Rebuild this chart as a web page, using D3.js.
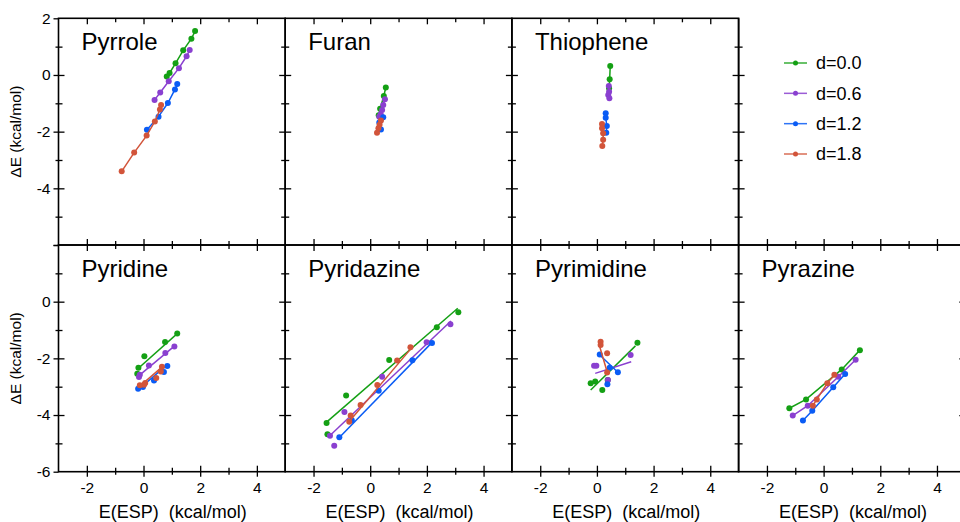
<!DOCTYPE html>
<html>
<head>
<meta charset="utf-8">
<script src="https://cdn.jsdelivr.net/npm/d3@7"></script>
<style>
  body { margin: 0; background: #fff; }
  svg { font-family: "Liberation Sans", Arial, sans-serif; }
  .tick text { font-size: 15.5px; fill: #000; }
  .tick line { stroke: #000; stroke-width: 1.3; }
  .frame { fill: none; stroke: #000; stroke-width: 1.6; }
</style>
</head>
<body>
<div id="chart"></div>
<script>
// ---- data ----
const molecules = ["Pyrrole", "Furan", "Thiophene", "Pyridine", "Pyridazine", "Pyrimidine", "Pyrazine"];
const seriesNames = ["d=0.0", "d=0.6", "d=1.2", "d=1.8"];
const seriesColors = ["#14a014", "#8a40d0", "#0a5cf5", "#d2543a"];

const xTicks = [-2, 0, 2, 4];
const yTicksTop = [2, 0, -2, -4];
const yTicksBottom = [0, -2, -4, -6];

// points per series: [E(ESP), dE]
const pyrrole = [
  [[1.82,1.55],[1.69,1.28],[1.40,0.87],[1.13,0.41],[0.92,0.07],[0.82,-0.05]],
  [[1.63,0.88],[1.52,0.66],[1.25,0.24],[0.89,-0.22],[0.59,-0.62],[0.39,-0.88]],
  [[1.19,-0.32],[1.11,-0.51],[0.86,-0.99],[0.53,-1.47],[0.12,-1.93]],
  [[0.62,-1.06],[0.58,-1.22],[0.40,-1.64],[0.11,-2.14],[-0.33,-2.74],[-0.77,-3.40]]
];
const furan = [
  [[0.55,-0.44],[0.48,-0.74],[0.35,-1.19],[0.30,-1.42]],
  [[0.52,-0.86],[0.46,-1.06],[0.42,-1.24],[0.37,-1.39],[0.32,-1.47]],
  [[0.46,-1.49],[0.32,-1.68],[0.38,-1.92]],
  [[0.38,-1.61],[0.33,-1.76],[0.29,-1.88],[0.24,-2.04]]
];
const thiophene = [
  [[0.47,0.32],[0.45,-0.15],[0.43,-0.47]],
  [[0.42,-0.39],[0.43,-0.59],[0.40,-0.71],[0.44,-0.82]],
  [[0.31,-1.35],[0.31,-1.51],[0.35,-1.80],[0.33,-2.04]],
  [[0.18,-1.73],[0.18,-1.88],[0.22,-2.06],[0.22,-2.29],[0.19,-2.51]]
];
const pyridine = [
  [[1.19,-1.12],[0.76,-1.42],[0.03,-1.93],[-0.18,-2.33],[-0.22,-2.54]],
  [[1.09,-1.58],[0.77,-1.81],[0.19,-2.25],[-0.13,-2.58],[-0.16,-2.66]],
  [[0.84,-2.27],[0.72,-2.48],[0.37,-2.78],[-0.02,-3.01],[-0.19,-3.07]],
  [[0.65,-2.30],[0.61,-2.46],[0.45,-2.69],[0.06,-2.87],[0.02,-2.93],[-0.13,-2.95]]
];
const pyridazine = [
  [[3.11,-0.37],[2.35,-0.90],[0.67,-2.06],[-0.85,-3.31],[-1.54,-4.28],[-1.51,-4.68]],
  [[2.83,-0.80],[1.99,-1.43],[0.42,-2.65],[-0.91,-3.89],[-1.42,-4.73],[-1.27,-5.08]],
  [[2.18,-1.46],[1.49,-2.07],[0.30,-3.14],[-0.65,-4.18],[-1.09,-4.78]],
  [[1.42,-1.61],[0.95,-2.08],[0.25,-2.94],[-0.34,-3.65],[-0.69,-4.02],[-0.74,-4.24]]
];
const pyrimidine = [
  [[1.43,-1.45],[0.38,-2.76],[-0.06,-2.82],[-0.22,-2.88],[0.19,-3.12]],
  [[1.19,-1.88],[-0.02,-2.26],[-0.10,-2.26],[0.39,-2.76]],
  [[0.10,-1.86],[0.45,-2.33],[0.74,-2.49],[0.37,-2.91]],
  [[0.13,-1.41],[0.13,-1.53],[0.36,-1.82],[0.36,-2.50]]
];
const pyrazine = [
  [[1.28,-1.71],[0.64,-2.39],[-0.62,-3.45],[-1.21,-3.76]],
  [[1.13,-2.05],[0.52,-2.65],[-0.56,-3.67],[-1.09,-4.02]],
  [[0.76,-2.55],[0.34,-3.02],[-0.40,-3.85],[-0.73,-4.19]],
  [[0.38,-2.58],[0.13,-2.88],[-0.24,-3.45],[-0.38,-3.67]]
];

// fitted lines (end points) for the panels that show fits instead of joined points
const pyridineFits = [[-0.19,-2.36,1.22,-1.10],[-0.17,-2.62,1.10,-1.56],[-0.19,-3.11,0.84,-2.22],[-0.13,-2.98,0.66,-2.30]];
const pyridazineFits = [[-1.56,-4.27,3.09,-0.23],[-1.42,-4.72,2.85,-0.68],[-1.09,-4.79,2.21,-1.41],[-0.77,-4.26,1.52,-1.56]];
const pyrimidineFits = [[-0.22,-3.12,1.36,-1.56],[-0.06,-2.53,1.21,-2.12],[0.10,-1.88,0.72,-2.47],[0.10,-1.59,0.36,-2.47]];

const panels = [
  {name: molecules[0], col: 0, row: 0, pts: pyrrole, fits: null},
  {name: molecules[1], col: 1, row: 0, pts: furan, fits: null},
  {name: molecules[2], col: 2, row: 0, pts: thiophene, fits: null},
  {name: molecules[3], col: 0, row: 1, pts: pyridine, fits: pyridineFits},
  {name: molecules[4], col: 1, row: 1, pts: pyridazine, fits: pyridazineFits},
  {name: molecules[5], col: 2, row: 1, pts: pyrimidine, fits: pyrimidineFits},
  {name: molecules[6], col: 3, row: 1, pts: pyrazine, fits: null}
];

// ---- layout ----
const W = 960, H = 522;
const left0 = 58.5, top0 = 18.3, size = 226.7;

const svg = d3.select("#chart").append("svg")
  .attr("width", W).attr("height", H);

function scalesFor(col, row) {
  const x0 = left0 + col * size, y0 = top0 + row * size;
  return {
    x: d3.scaleLinear().domain([-3, 5]).range([x0, x0 + size]),
    y: d3.scaleLinear().domain([-6, 2]).range([y0 + size, y0]),
    x0, y0
  };
}

const majorX = [-2, 0, 2, 4], minorX = [-1, 1, 3];
const majorY = [-4, -2, 0], minorY = [-5, -3, -1, 1];

// inward ticks on one side of a panel
function ticksIn(g, s, side) {
  const isX = side === "top" || side === "bottom";
  const sc = isX ? s.x : s.y;
  const pos = side === "left" ? s.x0 : side === "right" ? s.x0 + size :
              side === "top" ? s.y0 : s.y0 + size;
  const maker = {left: d3.axisLeft, right: d3.axisRight, top: d3.axisTop, bottom: d3.axisBottom}[side];
  const tr = isX ? `translate(0,${pos})` : `translate(${pos},0)`;
  [[isX ? majorX : majorY, 6], [isX ? minorX : minorY, 4]].forEach(([vals, len]) => {
    const a = g.append("g").attr("transform", tr)
      .call(maker(sc).tickValues(vals).tickSize(-len).tickFormat(""));
    a.select(".domain").remove();
  });
}

// outward ticks (with labels on the major ones)
function ticksOut(g, s, side, labels) {
  const isX = side === "bottom";
  const sc = isX ? s.x : s.y;
  const maker = isX ? d3.axisBottom : d3.axisLeft;
  const tr = isX ? `translate(0,${s.y0 + size})` : `translate(${s.x0},0)`;
  const a = g.append("g").attr("transform", tr)
    .call(maker(sc).tickValues(isX ? majorX : majorY.concat([2, -6])).tickSize(5).tickPadding(isX ? 5 : 3)
      .tickFormat(d => labels.includes(d) ? String(d) : ""));
  a.select(".domain").remove();
  const b = g.append("g").attr("transform", tr)
    .call(maker(sc).tickValues(isX ? minorX : minorY).tickSize(3).tickFormat(""));
  b.select(".domain").remove();
}

const line = (s) => d3.line().x(d => s.x(d[0])).y(d => s.y(d[1]));

panels.forEach(p => {
  const s = scalesFor(p.col, p.row);
  const g = svg.append("g").attr("class", "panel");

  ["left", "right", "top", "bottom"].forEach(side => ticksIn(g, s, side));
  if (p.col === 0) ticksOut(g, s, "left", p.row === 0 ? yTicksTop : yTicksBottom);
  if (p.row === 1) ticksOut(g, s, "bottom", xTicks);

  g.append("rect").attr("class", "frame")
    .attr("x", s.x0).attr("y", s.y0).attr("width", size).attr("height", size);

  g.append("text")
    .attr("x", s.x0 + 23).attr("y", s.y0 + 32)
    .attr("font-size", 24).text(p.name);

  p.pts.forEach((pts, i) => {
    const c = seriesColors[i];
    if (p.fits) {
      const f = p.fits[i];
      g.append("line")
        .attr("x1", s.x(f[0])).attr("y1", s.y(f[1]))
        .attr("x2", s.x(f[2])).attr("y2", s.y(f[3]))
        .attr("stroke", c).attr("stroke-width", 1.5);
    } else {
      g.append("path").datum(pts)
        .attr("d", line(s)).attr("fill", "none")
        .attr("stroke", c).attr("stroke-width", 1.5);
    }
    g.selectAll(null).data(pts).enter().append("circle")
      .attr("cx", d => s.x(d[0])).attr("cy", d => s.y(d[1]))
      .attr("r", 3).attr("fill", c);
  });

  if (p.row === 1) {
    svg.append("text")
      .attr("x", s.x0 + size / 2 + 1).attr("y", 518)
      .attr("text-anchor", "middle").attr("font-size", 18)
      .attr("xml:space", "preserve")
      .text("E(ESP)  (kcal/mol)");
  }
  if (p.col === 0) {
    svg.append("text")
      .attr("transform", `translate(21,${s.y0 + size / 2}) rotate(-90)`)
      .attr("text-anchor", "middle").attr("font-size", 15.5)
      .text("\u0394E (kcal/mol)");
  }
});

// legend cell (top right): only left and bottom edges with ticks
const sl = scalesFor(3, 0);
const gl = svg.append("g");
["left", "bottom"].forEach(side => ticksIn(gl, sl, side));
gl.append("line").attr("x1", sl.x0).attr("x2", sl.x0)
  .attr("y1", sl.y0).attr("y2", sl.y0 + size).attr("stroke", "#000").attr("stroke-width", 1.6);
gl.append("line").attr("x1", sl.x0).attr("x2", W)
  .attr("y1", sl.y0 + size).attr("y2", sl.y0 + size).attr("stroke", "#000").attr("stroke-width", 1.6);

const legY = d3.scalePoint().domain(seriesNames).range([63, 154]);
seriesNames.forEach((n, i) => {
  const y = legY(n);
  gl.append("line").attr("x1", 784).attr("x2", 807).attr("y1", y).attr("y2", y)
    .attr("stroke", seriesColors[i]).attr("stroke-width", 1.5).attr("opacity", 0.85);
  gl.append("circle").attr("cx", 795.5).attr("cy", y).attr("r", 2.5).attr("fill", seriesColors[i]);
  gl.append("text").attr("x", 816).attr("y", y).attr("dy", "0.36em")
    .attr("font-size", 18).text(n);
});
</script>
</body>
</html>
